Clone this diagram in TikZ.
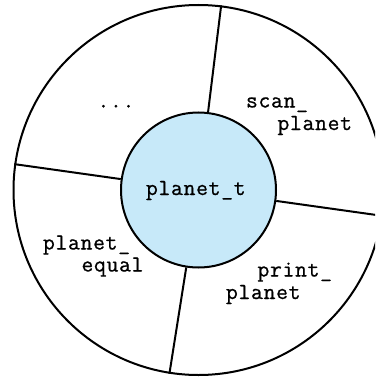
\documentclass[tikz,border=0pt]{standalone}
\usepackage{fontspec}
\setmonofont{Latin Modern Mono}[LetterSpace=3,FakeBold=0.8]
\definecolor{innerblue}{RGB}{199,233,249}
\tikzset{
  ring/.style={circle, draw=black, line width=2pt, inner sep=0pt},
  divider/.style={draw=black, line width=2pt},
  lbl/.style={anchor=base west, inner sep=0pt, outer sep=0pt, font=\ttfamily\fontsize{23}{27}\selectfont}
}
\begin{document}
\begin{tikzpicture}[x=1pt,y=-1pt]
\useasboundingbox (0,0) rectangle (375,377);
\clip (0,0) rectangle (375,377);
\node[ring, minimum size=370pt] (outer) at (198.5,190) {};
\node[ring, minimum size=155pt, fill=innerblue] (inner) at (198.5,190) {};
\draw[divider] (inner.83) -- (outer.83);
\draw[divider] (inner.-8) -- (outer.-8);
\draw[divider] (inner.261) -- (outer.261);
\draw[divider] (inner.172) -- (outer.172);
\node[lbl] (t) at (146,195) {planet\_t};
\node[lbl] (dots) at (97.5,107.5) {...};
\node[lbl] (s1) at (246,107.5) {scan\_};
\node[lbl] (s2) at (277.5,130) {planet};
\node[lbl] (e1) at (43,249.5) {planet\_};
\node[lbl] (e2) at (81.5,271.5) {equal};
\node[lbl] (p1) at (257.5,276.5) {print\_};
\node[lbl] (p2) at (226,299) {planet};
\end{tikzpicture}
\end{document}
